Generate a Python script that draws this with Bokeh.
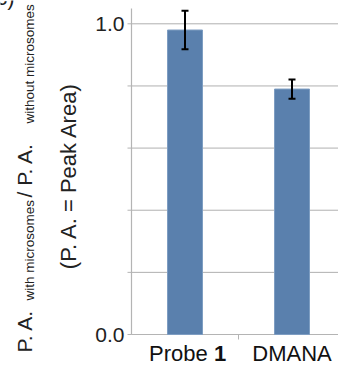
import math
from bokeh.plotting import figure
from bokeh.models import (ColumnDataSource, Range1d, Whisker, TeeHead, Label)
from bokeh.embed import file_html
from bokeh.resources import INLINE

# Peak-area ratios (with / without microsomes)
categories = ["Probe 1", "DMANA"]
ratio = [0.98, 0.79]
ratio_err = [0.062, 0.031]
y_ticks = [0.0, 0.2, 0.4, 0.6, 0.8, 1.0]
y_tick_labels = ["0.0", "", "", "", "", "1.0"]
divider_ticks = [1.0]

FONT = "Liberation Sans"
BAR = "#5a80ad"
AXIS = "#b4b4b4"
GRID = "#b0b0b0"

# drawing area spans the whole canvas; plot region starts at x=0 / y=0
PX_X = 107.0      # pixels per category
PX_Y = 310.7      # pixels per unit ratio
X0, Y0 = 131, 334  # pixel position of the data origin
W, H = 338, 366
X_END = (W - X0) / PX_X
Y_TOP = 1.049
BASE_SHIFT = 0.4   # label baseline correction, in em

xs = [i + 0.5 for i in range(len(categories))]
src = ColumnDataSource(dict(
    x=xs, top=ratio,
    upper=[v + e for v, e in zip(ratio, ratio_err)],
    lower=[v - e for v, e in zip(ratio, ratio_err)],
))

p = figure(width=W, height=H, output_backend="svg", toolbar_location=None,
           x_range=Range1d(-X0 / PX_X, X_END),
           y_range=Range1d(-(H - Y0) / PX_Y, Y0 / PX_Y),
           min_border=0, x_axis_type=None, y_axis_type=None)
p.outline_line_color = None
p.background_fill_color = "white"
p.border_fill_color = "white"
p.xgrid.visible = False
p.ygrid.visible = False

# horizontal grid lines and outer ticks on the value axis
tick_len_y = 4 / PX_X
p.segment(x0=[0] * len(y_ticks), x1=[X_END] * len(y_ticks), y0=y_ticks, y1=y_ticks,
          line_color=GRID, line_width=1)
p.segment(x0=[-tick_len_y] * len(y_ticks), x1=[0] * len(y_ticks), y0=y_ticks,
          y1=y_ticks, line_color=AXIS, line_width=1)
# axis lines
p.segment(x0=[0, 0], x1=[0, X_END], y0=[0, 0], y1=[Y_TOP, 0],
          line_color=AXIS, line_width=1.2)
# divider tick between categories
p.segment(x0=divider_ticks, x1=divider_ticks, y0=[0] * len(divider_ticks),
          y1=[-5 / PX_Y] * len(divider_ticks), line_color=AXIS, line_width=1)

p.vbar(x="x", top="top", width=0.327, bottom=0, source=src,
       fill_color=BAR, line_color="#7e9dc2", line_width=1)

whisk = Whisker(source=src, base="x", upper="upper", lower="lower",
                line_color="black", line_width=2, level="overlay",
                upper_head=TeeHead(size=7, line_color="black", line_width=2),
                lower_head=TeeHead(size=7, line_color="black", line_width=2))
p.add_layout(whisk)

# value-axis tick labels
p.text(x=[0] * len(y_ticks), y=y_ticks, text=y_tick_labels, x_offset=-7,
       text_font={"value": FONT}, text_font_size="21px", text_color="#222222",
       text_align="right", text_baseline="middle")


def hlabel(text, x, dx, sy, size, bold=False, align="left"):
    """Horizontal label with its baseline at canvas row sy."""
    p.add_layout(Label(x=x, y=0, x_offset=dx,
                       y_offset=Y0 - sy + BASE_SHIFT * size,
                       text=text, text_font=FONT, text_font_size=f"{size}px",
                       text_font_style="bold" if bold else "normal",
                       text_color="#111111", text_align=align,
                       text_baseline="alphabetic"))


def vlabel(text, sx, sy, size, align="left"):
    """Upward-reading label with its baseline at canvas column sx."""
    p.add_layout(Label(x=0, y=0, x_offset=sx - X0 - BASE_SHIFT * size,
                       y_offset=Y0 - sy, text=text, angle=math.pi / 2,
                       text_font=FONT, text_font_size=f"{size}px",
                       text_color="#222222", text_align=align,
                       text_baseline="alphabetic"))


# category labels ("1" in bold)
hlabel("Probe", xs[0], -36, 361.5, 22)
hlabel("1", xs[0], 29, 361.5, 22, bold=True)
hlabel("DMANA", xs[1], 0, 361.5, 22, align="center")

# rotated y-axis title with subscripts
vlabel("P. A.", 32, 352, 21)
vlabel("with microsomes", 34, 300, 13.5)
vlabel("/ P. A.", 32, 197, 21)
vlabel("without microsomes", 34, 123, 13.5)
vlabel("(P. A. = Peak Area)", 77, 175, 22, align="center")

# panel letter, mostly cut off at the top edge
p.add_layout(Label(x=0, y=0, x_offset=14 - X0, y_offset=Y0 - 6 + BASE_SHIFT * 22,
                   text="c)", text_font=FONT, text_font_size="22px",
                   text_color="#222222", text_align="right",
                   text_baseline="alphabetic"))

open("out.html", "w").write(file_html(p, INLINE))
